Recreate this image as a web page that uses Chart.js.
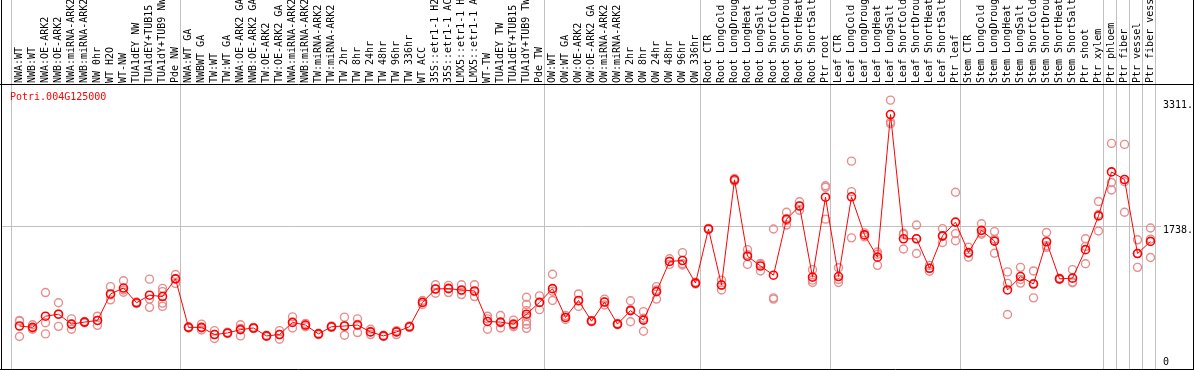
<!DOCTYPE html>
<html>
<head>
<meta charset="utf-8">
<script src="https://cdn.jsdelivr.net/npm/chart.js@4/dist/chart.umd.min.js"></script>
<style>
  html, body { margin: 0; padding: 0; background: #fff; }
  canvas { display: block; }
</style>
</head>
<body>
<canvas id="chart" width="1194" height="370"></canvas>
<script>
const geneName = 'Potri.004G125000';

const categories = [
  'NWA:WT', 'NWB:WT', 'NWA:OE-ARK2', 'NWB:OE-ARK2', 'NWA:miRNA-ARK2', 'NWB:miRNA-ARK2', 'NW 0hr', 'WT H2O', 'WT-NW',
  'TUA1dEY NW', 'TUA1dEY+TUB15', 'TUA1dY+TUB9 NW', 'Pde NW',
  'NWA:WT GA', 'NWBWT GA', 'TW:WT', 'TW:WT GA', 'NWA:OE-ARK2 GA', 'NWB:OE-ARK2 GA', 'TW:OE-ARK2', 'TW:OE-ARK2 GA',
  'NWA:miRNA-ARK2', 'NWB:miRNA-ARK2', 'TW:miRNA-ARK2', 'TW:miRNA-ARK2', 'TW 2hr', 'TW 8hr', 'TW 24hr', 'TW 48hr',
  'TW 96hr', 'TW 336hr', 'WT ACC', '35S::etr1-1 H2', '35S::etr1-1 AC', 'LMX5::etr1-1 H', 'LMX5::etr1-1 A', 'WT-TW',
  'TUA1dEY TW', 'TUA1dEY+TUB15', 'TUA1dY+TUB9 TW', 'Pde TW',
  'OW:WT', 'OW:WT GA', 'OW:OE-ARK2', 'OW:OE-ARK2 GA', 'OW:miRNA-ARK2', 'OW:miRNA-ARK2', 'OW 2hr', 'OW 8hr',
  'OW 24hr', 'OW 48hr', 'OW 96hr', 'OW 336hr',
  'Root CTR', 'Root LongCold', 'Root LongDroug', 'Root LongHeat', 'Root LongSalt', 'Root ShortCold', 'Root ShortDrou',
  'Root ShortHeat', 'Root ShortSalt', 'Ptr root',
  'Leaf CTR', 'Leaf LongCold', 'Leaf LongDroug', 'Leaf LongHeat', 'Leaf LongSalt', 'Leaf ShortCold', 'Leaf ShortDrou',
  'Leaf ShortHeat', 'Leaf ShortSalt', 'Ptr leaf',
  'Stem CTR', 'Stem LongCold', 'Stem LongDroug', 'Stem LongHeat', 'Stem LongSalt', 'Stem ShortCold', 'Stem ShortDrou',
  'Stem ShortHeat', 'Stem ShortSalt', 'Ptr shoot', 'Ptr xylem',
  'Ptr phloem', 'Ptr fiber', 'Ptr vessel', 'Ptr fiber vess'
];

// mean expression per sample
const meanValues = [
  481, 464, 604, 629, 505, 530, 551, 883, 957, 772, 867, 850, 1072,
  464, 464, 374, 394, 436, 456, 357, 374, 526, 493, 382, 472, 481, 493, 407, 357, 407, 472, 777, 945, 949, 933, 920,
  538, 530, 505, 629, 777,
  949, 588, 801, 542, 781, 505, 674, 555, 912, 1290, 1302, 1019,
  1697, 994, 2313, 1356, 1233, 1118, 1820, 1985, 1093, 2095,
  1101, 2100, 1623, 1344, 3131, 1574, 1574, 1204, 1611, 1783,
  1401, 1680, 1545, 933, 1101, 1007, 1537, 1072, 1081, 1438, 1861,
  2412, 2317, 1389, 1541
];

// individual replicates per sample
const replicates = [
  [551, 542, 349], [497, 456, 440], [900, 522, 382], [772, 629, 477], [571, 505, 440], [538, 530, 522],
  [604, 551, 489], [974, 871, 809], [1048, 933, 904], [781, 772, 764], [1068, 818, 715], [953, 912, 768, 727],
  [1126, 1072, 1015],
  [472, 464, 456], [505, 456, 431], [423, 374, 325], [403, 394, 386], [497, 452, 357], [464, 456, 448],
  [366, 357, 349], [423, 374, 316], [596, 526, 456], [514, 493, 472], [390, 382, 374], [481, 472, 464],
  [592, 481, 366], [571, 501, 399], [440, 407, 374], [366, 357, 349], [423, 407, 374], [481, 472, 464],
  [801, 777, 752], [998, 945, 892], [990, 957, 900], [998, 924, 875], [998, 912, 850], [604, 571, 440],
  [612, 522, 456], [555, 489, 472], [842, 752, 674, 604, 542, 501, 452], [859, 777, 686],
  [1130, 916, 801], [612, 588, 563], [883, 793, 727], [551, 542, 534], [818, 781, 744], [514, 505, 497],
  [797, 686, 534], [661, 579, 415], [974, 933, 818], [1323, 1290, 1253], [1401, 1261, 1245], [1031, 1019, 1007],
  [1705, 1697, 1689], [1056, 994, 933], [2330, 2313, 2297], [1438, 1376, 1253], [1265, 1253, 1171],
  [1697, 834, 818], [1906, 1804, 1746], [2038, 1985, 1931], [1187, 1056, 1027], [2239, 2219, 1820],
  [1212, 1064, 1027], [2547, 2165, 1586], [1648, 1623, 1598], [1409, 1381, 1241], [3311, 3036, 3016],
  [1643, 1631, 1446], [1746, 1574, 1389], [1241, 1204, 1167], [1701, 1602, 1528], [2157, 1639, 1549],
  [1467, 1393, 1344], [1763, 1648, 1631], [1664, 1570, 1393], [1159, 1015, 625], [1216, 1064, 1019],
  [1171, 1015, 834], [1652, 1487, 1467], [1081, 1072, 1064], [1187, 1031, 1023], [1574, 1479, 1261],
  [2042, 1878, 1672],
  [2769, 2280, 2186], [2757, 2289, 1906], [1561, 1389, 1216], [1709, 1570, 1339]
];

const yTickValues = [0, 1738, 3311];
const yTickLabels = ['0', '1738.', '3311.'];
const yMax = 3501;
// first sample of each group (last entry = end of axis)
const groupStarts = [0, 13, 41, 53, 63, 73, 84, 85, 86, 87, 88];

const monoFamily = '"DejaVu Sans Mono", "Liberation Mono", monospace';

const repPoints = [];
replicates.forEach((reps, i) => {
  reps.forEach(v => repPoints.push({ x: i, y: v }));
});

const framePlugin = {
  id: 'framePlugin',
  beforeDatasetsDraw(chart) {
    const ctx = chart.ctx;
    const xr = chart.scales.xr;
    const ys = chart.scales.y;
    ctx.save();
    ctx.strokeStyle = '#c0c0c0';
    ctx.lineWidth = 1;
    ctx.beginPath();
    groupStarts.forEach(i => {
      const px = Math.floor(xr.getPixelForValue(i) - 8) + 0.5;
      ctx.moveTo(px, 0);
      ctx.lineTo(px, chart.height);
    });
    const gy = Math.round(ys.getPixelForValue(yTickValues[1])) + 0.5;
    ctx.moveTo(2, gy);
    ctx.lineTo(1161, gy);
    ctx.stroke();
    ctx.restore();
  },
  afterDraw(chart) {
    const ctx = chart.ctx;
    const ys = chart.scales.y;
    const W = chart.width, H = chart.height;
    ctx.save();
    ctx.strokeStyle = '#000';
    ctx.lineWidth = 1;
    ctx.beginPath();
    ctx.moveTo(1.5, 0); ctx.lineTo(1.5, H);
    ctx.moveTo(W - 0.5, 0); ctx.lineTo(W - 0.5, H);
    ctx.moveTo(0, 84.5); ctx.lineTo(W, 84.5);
    ctx.moveTo(0, H - 0.5); ctx.lineTo(W, H - 0.5);
    ctx.stroke();

    ctx.font = '10px ' + monoFamily;
    ctx.textAlign = 'left';
    ctx.textBaseline = 'middle';
    ctx.fillStyle = '#ff0000';
    ctx.fillText(geneName, 10, 97.5);

    ctx.fillStyle = '#000';
    yTickValues.forEach((v, k) => {
      const py = Math.min(ys.getPixelForValue(v) + 5, 362);
      ctx.fillText(yTickLabels[k], 1163, py);
    });
    ctx.restore();
  }
};

new Chart(document.getElementById('chart'), {
  type: 'line',
  data: {
    labels: categories,
    datasets: [
      {
        label: 'mean',
        data: meanValues,
        borderColor: '#ff0000',
        borderWidth: 1,
        pointRadius: 4,
        pointBorderWidth: 1.6,
        pointBorderColor: '#ff0000',
        pointBackgroundColor: 'rgba(0,0,0,0)',
        tension: 0
      },
      {
        label: 'replicates',
        data: repPoints,
        xAxisID: 'xr',
        showLine: false,
        pointRadius: 4,
        pointBorderWidth: 1.4,
        pointBorderColor: 'rgba(232,140,140,1)',
        pointBackgroundColor: 'rgba(0,0,0,0)'
      }
    ]
  },
  options: {
    responsive: false,
    animation: false,
    devicePixelRatio: 1,
    layout: { padding: { left: 13, right: 37, top: 0, bottom: 1 } },
    plugins: { legend: { display: false }, tooltip: { enabled: false }, title: { display: false } },
    scales: {
      x: {
        type: 'category',
        position: 'top',
        offset: true,
        grid: { display: false, drawTicks: false },
        border: { display: false },
        ticks: {
          autoSkip: false,
          maxRotation: 90,
          minRotation: 90,
          padding: 2,
          labelOffset: 12,
          color: '#000',
          font: { family: monoFamily, size: 10 }
        },
        afterFit(scale) { scale.height = 85; }
      },
      xr: {
        type: 'linear',
        display: false,
        min: -0.5,
        max: categories.length - 0.5
      },
      y: {
        type: 'linear',
        display: false,
        min: 0,
        max: yMax
      }
    }
  },
  plugins: [framePlugin]
});
</script>
</body>
</html>
